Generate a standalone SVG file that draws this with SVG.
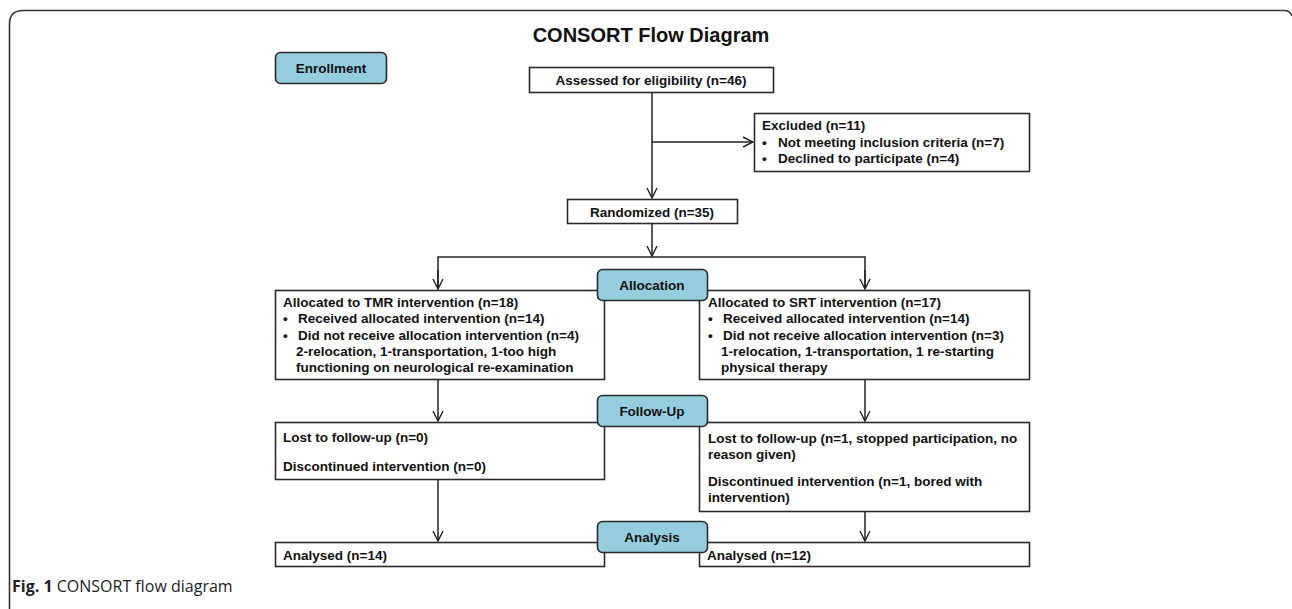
<svg xmlns="http://www.w3.org/2000/svg" width="1292" height="609" viewBox="0 0 1292 609">
<defs>
<marker id="arr" viewBox="0 0 12 12" refX="11" refY="6" markerWidth="12" markerHeight="12" markerUnits="userSpaceOnUse" orient="auto">
<polyline points="1,1 11,6 1,11" fill="none" stroke="#222" stroke-width="1.4"/>
</marker>
<style>
.box{fill:#fff;stroke:#2a2a2a;stroke-width:1.6}
.stage{fill:#95cddf;stroke:#2a2a2a;stroke-width:1.6}
.t{font-family:"Liberation Sans",Arial,sans-serif;font-weight:bold;font-size:13.5px;fill:#111}
.c{text-anchor:middle}
.ln{fill:none;stroke:#222;stroke-width:1.5}
</style>
</defs>
<rect width="1292" height="609" fill="#fff"/>
<path d="M9.5,609 V24 Q9.5,10.5 23,10.5 H1284 Q1290,10.5 1292,16" fill="none" stroke="#333" stroke-width="1.6"/>
<text x="651" y="42" text-anchor="middle" font-family="Liberation Sans,Arial,sans-serif" font-weight="bold" font-size="20" fill="#111">CONSORT Flow Diagram</text>

<g id="connectors">
<path class="ln" d="M652,92 V198" marker-end="url(#arr)"/>
<path class="ln" d="M652,142 H753" marker-end="url(#arr)"/>
<path class="ln" d="M652,223 V256" marker-end="url(#arr)"/>
<path class="ln" d="M438,289 V257 H865 V289"/>
<path class="ln" d="M438,270 V289" marker-end="url(#arr)"/>
<path class="ln" d="M865,270 V289" marker-end="url(#arr)"/>
<path class="ln" d="M438,380 V421" marker-end="url(#arr)"/>
<path class="ln" d="M865,380 V421" marker-end="url(#arr)"/>
<path class="ln" d="M438,479 V541" marker-end="url(#arr)"/>
<path class="ln" d="M865,512 V541" marker-end="url(#arr)"/>
</g>

<g id="enrollment">
<rect class="stage" x="275.5" y="52.5" width="111" height="31" rx="5"/>
<text class="t c" x="331" y="73">Enrollment</text>
</g>

<g id="assessed">
<rect class="box" x="529.5" y="67.5" width="244" height="25"/>
<text class="t c" x="651" y="84.5">Assessed for eligibility (n=46)</text>
</g>

<g id="excluded">
<rect class="box" x="754.5" y="113.5" width="275" height="58"/>
<text class="t" x="762" y="130">Excluded (n=11)</text>
<text class="t" x="762" y="147">•</text>
<text class="t" x="778" y="147">Not meeting inclusion criteria (n=7)</text>
<text class="t" x="762" y="163">•</text>
<text class="t" x="778" y="163">Declined to participate (n=4)</text>
</g>

<g id="randomized">
<rect class="box" x="567.5" y="199.5" width="170" height="24"/>
<text class="t c" x="652" y="216.5">Randomized (n=35)</text>
</g>

<g id="tmr">
<rect class="box" x="275.5" y="290.5" width="329" height="89"/>
<text class="t" x="283" y="307">Allocated to TMR intervention (n=18)</text>
<text class="t" x="283" y="323">•</text>
<text class="t" x="298" y="323">Received allocated intervention (n=14)</text>
<text class="t" x="283" y="340">•</text>
<text class="t" x="298" y="340">Did not receive allocation intervention (n=4)</text>
<text class="t" x="296" y="356">2-relocation, 1-transportation, 1-too high</text>
<text class="t" x="296" y="372">functioning on neurological re-examination</text>
</g>

<g id="srt">
<rect class="box" x="699.5" y="290.5" width="330" height="89"/>
<text class="t" x="708" y="307">Allocated to SRT intervention (n=17)</text>
<text class="t" x="708" y="323">•</text>
<text class="t" x="723" y="323">Received allocated intervention (n=14)</text>
<text class="t" x="708" y="340">•</text>
<text class="t" x="723" y="340">Did not receive allocation intervention (n=3)</text>
<text class="t" x="721" y="356">1-relocation, 1-transportation, 1 re-starting</text>
<text class="t" x="721" y="372">physical therapy</text>
</g>

<g id="allocation">
<rect class="stage" x="597.5" y="269.5" width="110" height="31" rx="5"/>
<text class="t c" x="652" y="289.5">Allocation</text>
</g>

<g id="lost-left">
<rect class="box" x="275.5" y="422.5" width="329" height="57"/>
<text class="t" x="283" y="442">Lost to follow-up (n=0)</text>
<text class="t" x="283" y="471">Discontinued intervention (n=0)</text>
</g>

<g id="lost-right">
<rect class="box" x="699.5" y="422.5" width="330" height="89"/>
<text class="t" x="708" y="443">Lost to follow-up (n=1, stopped participation, no</text>
<text class="t" x="708" y="459">reason given)</text>
<text class="t" x="708" y="486">Discontinued intervention (n=1, bored with</text>
<text class="t" x="708" y="502">intervention)</text>
</g>

<g id="followup">
<rect class="stage" x="597.5" y="395.5" width="110" height="31" rx="5"/>
<text class="t c" x="652" y="415.5">Follow-Up</text>
</g>

<g id="analysed-left">
<rect class="box" x="275.5" y="542.5" width="329" height="24"/>
<text class="t" x="283" y="559.5">Analysed (n=14)</text>
</g>

<g id="analysed-right">
<rect class="box" x="699.5" y="542.5" width="330" height="24"/>
<text class="t" x="707" y="559.5">Analysed (n=12)</text>
</g>

<g id="analysis">
<rect class="stage" x="597.5" y="521.5" width="110" height="31" rx="5"/>
<text class="t c" x="652" y="541.5">Analysis</text>
</g>

<text x="12" y="592" font-family="Open Sans,Liberation Sans,sans-serif" font-size="16" fill="#222"><tspan font-weight="bold">Fig. 1</tspan> CONSORT flow diagram</text>
</svg>
